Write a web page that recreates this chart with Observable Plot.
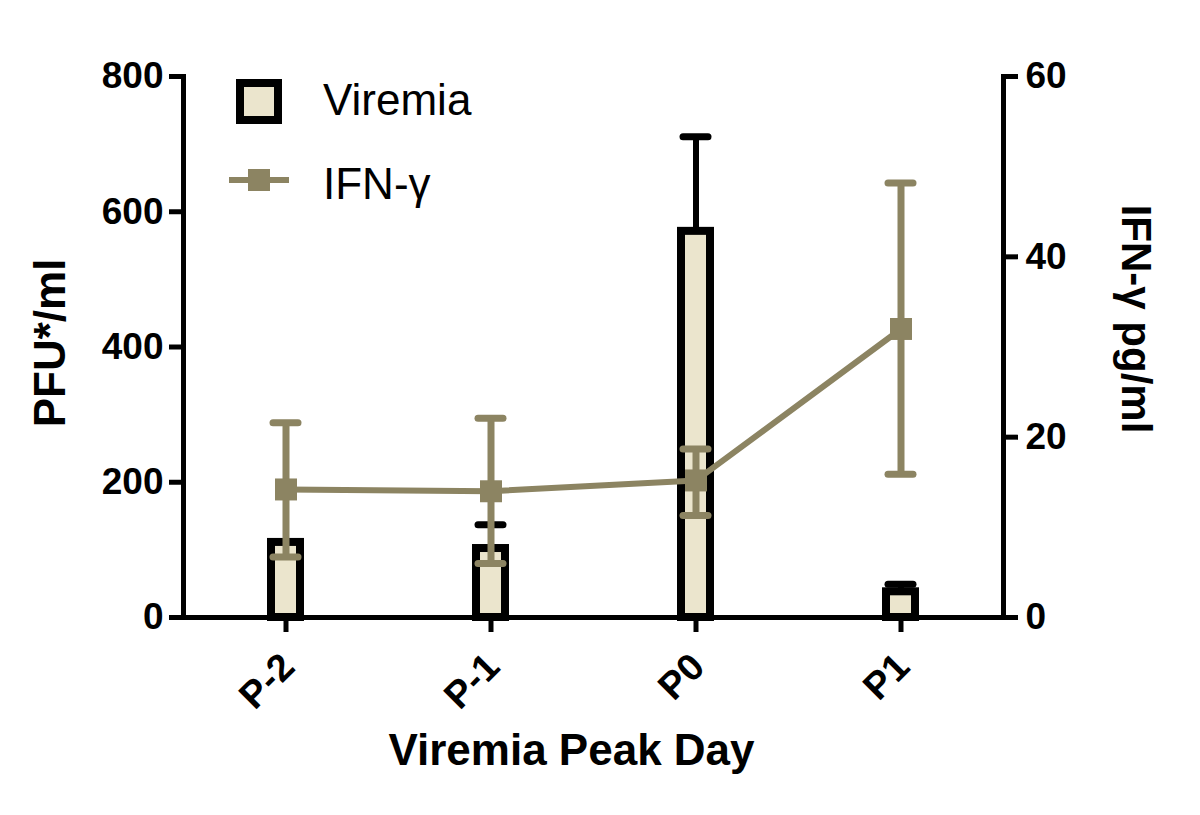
<!DOCTYPE html>
<html>
<head>
<meta charset="utf-8">
<script src="https://cdn.jsdelivr.net/npm/d3@7"></script>
<script src="https://cdn.jsdelivr.net/npm/@observablehq/plot@0.6"></script>
<style>
  body { margin: 0; background: #fff; font-family: "Liberation Sans", Arial, sans-serif; }
  #wrap { position: relative; width: 1200px; height: 815px; }
  #legend { position: absolute; left: 0; top: 0; }
</style>
</head>
<body>
<div id="wrap"></div>
<script>
// ---- data ----
const days = ["P-2", "P-1", "P0", "P1"];
const viremia = [111, 102, 571, 38];          // PFU*/ml
const viremiaUpper = [null, 137, 711, 49];    // upper error bar end
const ifn = [14.2, 14.0, 15.2, 32.0];         // IFN-γ pg/ml
const ifnLow = [6.7, 6.0, 11.3, 15.9];
const ifnHigh = [21.6, 22.1, 18.7, 48.2];
const leftTicks = [0, 200, 400, 600, 800];
const rightTicks = [0, 20, 40, 60];

const K = 800 / 60; // right-axis to left-axis conversion
const barFill = "#ebe5cd";
const olive = "#8c8462";

const rows = days.map((d, i) => ({
  day: d, pfu: viremia[i], pfuHi: viremiaUpper[i],
  ifn: ifn[i] * K, ifnLo: ifnLow[i] * K, ifnHi: ifnHigh[i] * K
}));
const errRows = rows.filter(r => r.pfuHi != null);

const chart = Plot.plot({
  width: 1200,
  height: 815,
  marginLeft: 183,
  marginRight: 197,
  marginTop: 76,
  marginBottom: 198,
  style: { fontFamily: "'Liberation Sans', Arial, sans-serif", background: "#fff", color: "#000" },
  x: { domain: days, padding: 0 },
  y: { domain: [0, 800] },
  marks: [
    Plot.barY(rows, { x: "day", y: "pfu", fill: barFill, stroke: "#000", strokeWidth: 8, insetLeft: 88, insetRight: 88 }),
    Plot.ruleX(errRows, { x: "day", y1: "pfu", y2: "pfuHi", stroke: "#000", strokeWidth: 6 }),
    Plot.tickY(errRows, { x: "day", y: "pfuHi", stroke: "#000", strokeWidth: 7, strokeLinecap: "round", insetLeft: 90, insetRight: 90 }),
    Plot.line(rows, { x: "day", y: "ifn", stroke: olive, strokeWidth: 6 }),
    Plot.ruleX(rows, { x: "day", y1: "ifnLo", y2: "ifnHi", stroke: olive, strokeWidth: 7 }),
    Plot.tickY(rows, { x: "day", y: "ifnLo", stroke: olive, strokeWidth: 7, strokeLinecap: "round", insetLeft: 90, insetRight: 90 }),
    Plot.tickY(rows, { x: "day", y: "ifnHi", stroke: olive, strokeWidth: 7, strokeLinecap: "round", insetLeft: 90, insetRight: 90 }),
    Plot.dot(rows, { x: "day", y: "ifn", symbol: "square", r: 12.4, fill: olive, stroke: "none" }),
    // axis lines
    Plot.ruleY([0], { stroke: "#000", strokeWidth: 5 }),
    Plot.frame({ anchor: "left", stroke: "#000", strokeWidth: 5 }),
    Plot.frame({ anchor: "right", stroke: "#000", strokeWidth: 5 }),
    // axes
    Plot.axisY(leftTicks, { anchor: "left", tickSize: 14, tickPadding: 6, strokeWidth: 5, fontSize: 37, fontWeight: "bold", label: null }),
    Plot.axisY(rightTicks.map(v => v * K), { anchor: "right", tickSize: 14, tickPadding: 8, strokeWidth: 5, fontSize: 37, fontWeight: "bold", tickFormat: d => String(Math.round(d / K)), label: null }),
    Plot.axisX({ tickSize: 15, strokeWidth: 5, tickFormat: () => "", label: null }),
    Plot.axisX({ tickSize: 0, tickRotate: -45, fontSize: 38, fontWeight: "bold", tickPadding: 43, dx: 2, label: null }),
    // axis titles
    Plot.text(["PFU*/ml"], { frameAnchor: "left", textAnchor: "middle", rotate: -90, dx: -133, dy: -4, fontSize: 44, fontWeight: "bold", fill: "#000" }),
    Plot.text(["IFN-γ pg/ml"], { frameAnchor: "right", textAnchor: "middle", rotate: 90, dx: 132, dy: -28, fontSize: 42, fontWeight: "bold", fill: "#000" }),
    Plot.text(["Viremia Peak Day"], { frameAnchor: "bottom", dx: -22, dy: 147, fontSize: 44, fontWeight: "bold", fill: "#000" })
  ]
});
document.getElementById("wrap").appendChild(chart);

// ---- legend ----
const legend = d3.select("#wrap").append("svg")
  .attr("id", "legend").attr("width", 520).attr("height", 230)
  .style("font-family", "'Liberation Sans', Arial, sans-serif");
legend.append("rect").attr("x", 240).attr("y", 83).attr("width", 38).attr("height", 37)
  .attr("fill", barFill).attr("stroke", "#000").attr("stroke-width", 8);
legend.append("text").attr("x", 323).attr("y", 115).attr("font-size", 44).text("Viremia");
legend.append("line").attr("x1", 229).attr("x2", 289).attr("y1", 180).attr("y2", 180)
  .attr("stroke", olive).attr("stroke-width", 6);
legend.append("rect").attr("x", 248).attr("y", 169).attr("width", 22).attr("height", 22).attr("fill", olive);
legend.append("text").attr("x", 323).attr("y", 199).attr("font-size", 44).text("IFN-γ");
</script>
</body>
</html>
